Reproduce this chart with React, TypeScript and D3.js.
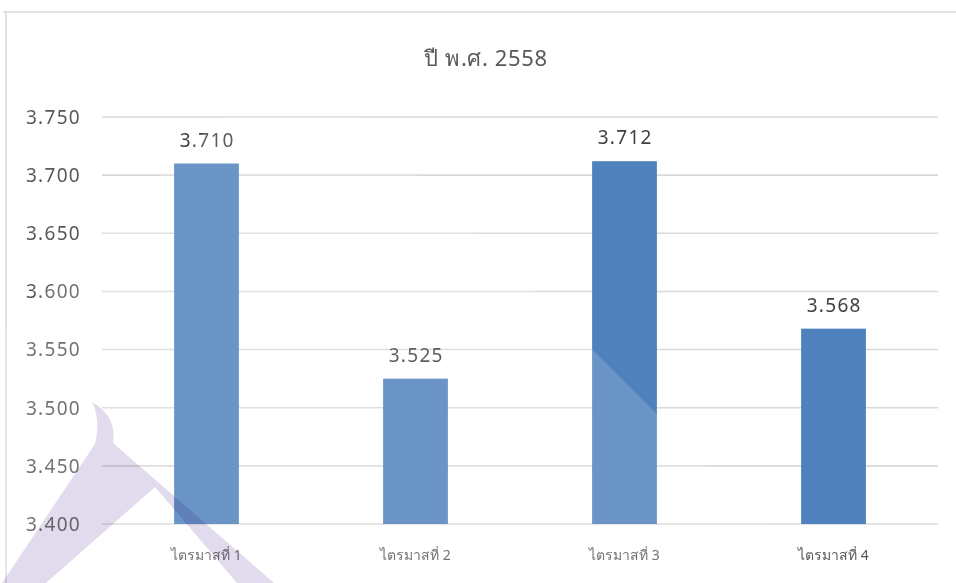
import * as d3 from 'd3';

const categories = ['ไตรมาสที่ 1', 'ไตรมาสที่ 2', 'ไตรมาสที่ 3', 'ไตรมาสที่ 4'];
const values = [3.71, 3.525, 3.712, 3.568];
const yTicks = [3.4, 3.45, 3.5, 3.55, 3.6, 3.65, 3.7, 3.75];
const title = 'ปี พ.ศ. 2558';

const W = 956;
const H = 583;
const margin = { top: 117, right: 18, bottom: 59, left: 102 };

export default function App() {
  const x = d3
    .scaleBand<string>()
    .domain(categories)
    .range([margin.left, W - margin.right])
    .padding(0);
  const y = d3.scaleLinear().domain([3.4, 3.75]).range([H - margin.bottom, margin.top]);
  const barW = x.bandwidth() * 0.31;
  const fmt = d3.format('.3f');
  const font = "'Noto Sans', 'DejaVu Sans', sans-serif";

  return (
    <svg
      width={W}
      height={H}
      style={{ position: 'absolute', left: 0, top: 0, background: '#fff' }}
    >
      {/* chart frame */}
      <line x1={3} x2={W} y1={12} y2={12} stroke="#d9d9d9" strokeWidth={1.5} />
      <line x1={6} x2={6} y1={12} y2={H} stroke="#d9d9d9" strokeWidth={1.5} />

      <text
        x={486}
        y={66}
        textAnchor="middle"
        fontFamily={font}
        fontSize={22}
        fill="#595959"
        letterSpacing={0.6}
      >
        {title}
      </text>

      {yTicks.map((t) => (
        <g key={t}>
          <line
            x1={margin.left}
            x2={W - margin.right}
            y1={y(t)}
            y2={y(t)}
            stroke="#d9d9d9"
            strokeWidth={1.6}
          />
          <text
            x={81}
            y={y(t)}
            dy="0.36em"
            textAnchor="end"
            fontFamily={font}
            fontSize={19}
            letterSpacing={1.3}
            fill="#595959"
          >
            {fmt(t)}
          </text>
        </g>
      ))}

      {categories.map((c, i) => {
        const cx = (x(c) ?? 0) + x.bandwidth() / 2;
        return (
          <g key={c}>
            <rect
              x={cx - barW / 2}
              y={y(values[i])}
              width={barW}
              height={y(3.4) - y(values[i])}
              fill="#4f81bd"
            />
            <text
              x={cx + 0.7}
              y={y(values[i]) - 17}
              textAnchor="middle"
              fontFamily={font}
              fontSize={19}
              letterSpacing={1.3}
              fill="#404040"
            >
              {fmt(values[i])}
            </text>
            <text
              x={cx}
              y={560}
              textAnchor="middle"
              fontFamily={font}
              fontSize={14}
              fill="#595959"
            >
              {c}
            </text>
          </g>
        );
      })}

      {/* faint scan overlay that lightens the left bars */}
      <polygon points="290,47 826,583 0,583 0,337" fill="#fff" opacity={0.16} />

      {/* watermark */}
      <path
        d="M92 402 Q117 416 113 443 L274 583 L237 583 L155 487 L46 583 L2 583 L95 444 Q101 420 92 402 Z"
        fill="#e2dbee"
        style={{ mixBlendMode: 'multiply' }}
      />
    </svg>
  );
}
